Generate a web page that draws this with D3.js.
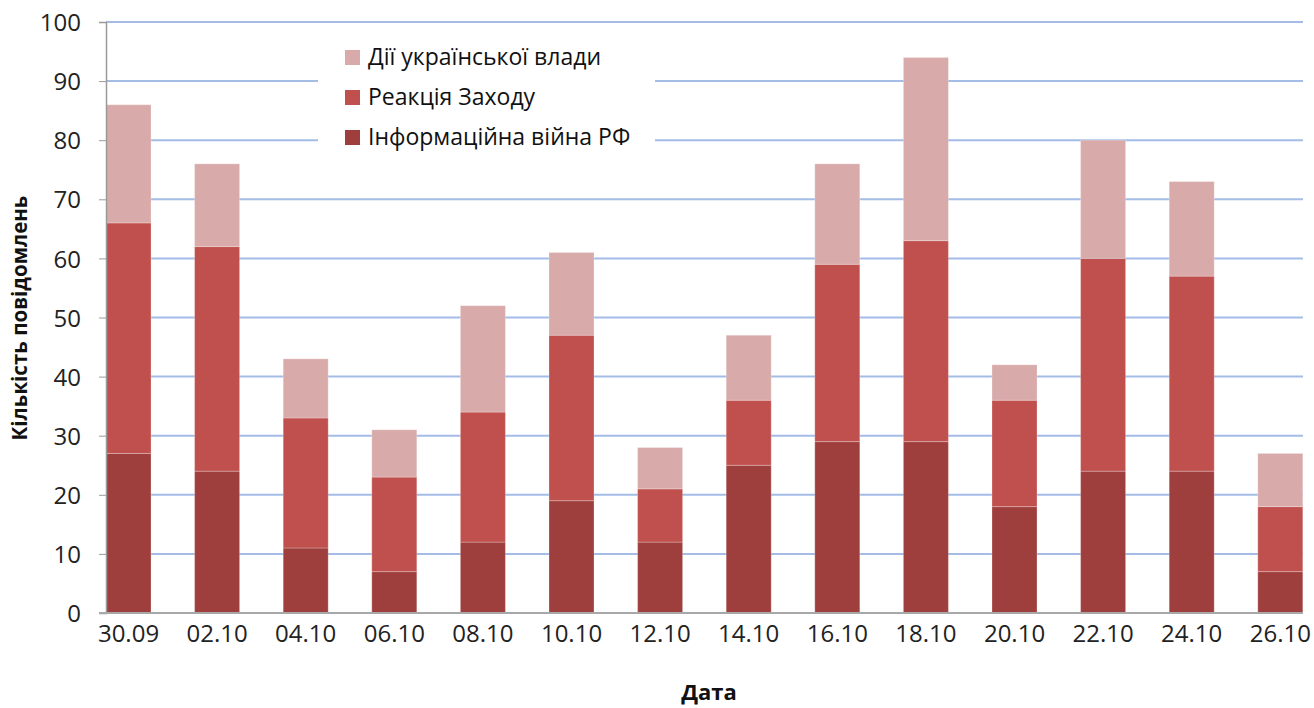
<!DOCTYPE html>
<html><head><meta charset="utf-8">
<script src="https://cdn.jsdelivr.net/npm/d3@7"></script>
<style>body{margin:0;background:#fff;} svg{display:block;}</style>
</head><body>
<svg id="c" width="1314" height="708"></svg>
<script>
const categories = ["30.09","02.10","04.10","06.10","08.10","10.10","12.10","14.10","16.10","18.10","20.10","22.10","24.10","26.10"];
const infoWar   = [27,24,11,7,12,19,12,25,29,29,18,24,24,7];
const westReact = [39,38,22,16,22,28,9,11,30,34,18,36,33,11];
const ukrGov    = [20,14,10,8,18,14,7,11,17,31,6,20,16,9];
const seriesNames = ["Інформаційна війна РФ","Реакція Заходу","Дії української влади"];
const colors = ["#9E3F3D","#C0504D","#D9AAAA"];
const yTicks = [0,10,20,30,40,50,60,70,80,90,100];

const svg = d3.select("#c");
const font = "'Open Sans', sans-serif";
const plotL = 106, plotR = 1303, plotT = 22, plotB = 613;

const y = d3.scaleLinear().domain([0,100]).range([plotB, plotT]);
const x = d3.scaleBand().domain(categories).range([84.2, 84.2 + 14*88.6]).paddingInner(0.492).paddingOuter(0.246);

// gridlines
svg.append("g").selectAll("line").data(yTicks.filter(d=>d>0)).join("line")
  .attr("x1", plotL).attr("x2", plotR)
  .attr("y1", d=>y(d)).attr("y2", d=>y(d))
  .attr("stroke", "#A4BCE6").attr("stroke-width", 2);

// legend background (covers gridlines)
svg.append("rect").attr("x", 318).attr("y", 30).attr("width", 337).attr("height", 135).attr("fill", "#fff");

// stacked bars
const data = categories.map((c,i)=>({cat:c, s0:infoWar[i], s1:westReact[i], s2:ukrGov[i]}));
const stack = d3.stack().keys(["s0","s1","s2"])(data);
svg.append("g").selectAll("g").data(stack).join("g")
  .attr("fill", (d,i)=>colors[i])
  .selectAll("rect").data(d=>d).join("rect")
  .attr("x", d=>x(d.data.cat)).attr("width", x.bandwidth())
  .attr("y", d=>y(d[1])).attr("height", d=>y(d[0])-y(d[1]))
  .attr("stroke", "rgba(255,255,255,0.25)").attr("stroke-width", 1);

// y axis
const yAxis = d3.axisLeft(y).tickValues(yTicks).tickSize(7).tickPadding(18).tickFormat(d3.format("d"));
const gy = svg.append("g").attr("transform", `translate(${plotL},0)`).call(yAxis);
gy.select(".domain").attr("stroke", "#9a9a9a").attr("stroke-width", 1.5);
gy.selectAll(".tick line").attr("stroke", "#9a9a9a");
gy.selectAll("text").attr("font-family", font).attr("font-size", 24).attr("fill", "#222").attr("dy","0.36em");

// x axis baseline + labels
const xAxis = d3.axisBottom(x).tickSize(0).tickPadding(12);
const gx = svg.append("g").attr("transform", `translate(0,${plotB})`).call(xAxis);
gx.select(".domain").remove();
svg.append("line").attr("x1", plotL - 7).attr("x2", plotR).attr("y1", plotB).attr("y2", plotB)
  .attr("stroke", "#a8a8a8").attr("stroke-width", 2);
gx.selectAll("text").attr("font-family", font).attr("font-size", 24).attr("fill", "#222");

// axis titles
svg.append("text").attr("x", 709).attr("y", 700).attr("text-anchor","middle")
  .attr("font-family", font).attr("font-weight", "bold").attr("font-size", 22).attr("fill","#111").text("Дата");
svg.append("text").attr("transform", "translate(27,318) rotate(-90)").attr("text-anchor","middle")
  .attr("font-family", font).attr("font-weight", "bold").attr("font-size", 20.5).attr("fill","#111").text("Кількість повідомлень");

// legend
const legendOrder = [2,1,0];
const lg = svg.append("g").selectAll("g").data(legendOrder).join("g")
  .attr("transform", (d,i)=>`translate(345,${57 + i*40})`);
lg.append("rect").attr("x",0).attr("y",-7).attr("width",15).attr("height",15).attr("fill", d=>colors[d]);
lg.append("text").attr("x", 23).attr("y", 0).attr("dy","0.36em")
  .attr("font-family", font).attr("font-size", 23).attr("fill","#111").text(d=>seriesNames[d]);
</script>
</body></html>
